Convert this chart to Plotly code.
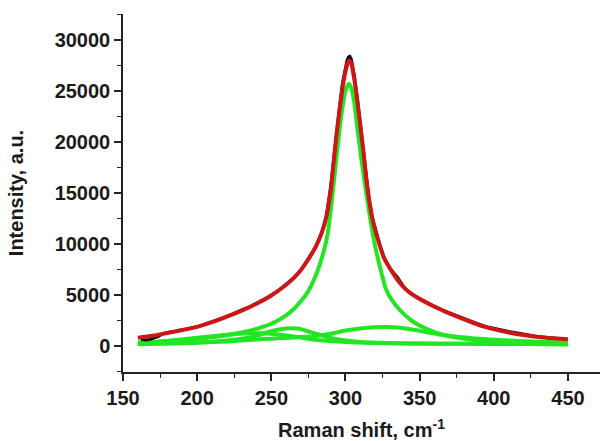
import plotly.graph_objects as go

# Measured Raman spectrum (black)
data_x = [162,165,168,171,174,177,180,184,188,192,196,200,205,210,215,220,225,230,235,240,245,250,255,260,265,270,275,280,284,287,290,292,294,296,298,300,301,302,303,304,305,306,308,310,312,314,316,318,320,323,326,330,335,340,345,350,355,360,365,370,375,380,385,390,395,400,405,410,415,420,425,430,435,440,445,448]
data_y = [650,600,640,760,950,1200,1330,1400,1520,1620,1750,1880,2120,2400,2620,2950,3180,3550,3800,4200,4550,5000,5450,6050,6650,7450,8550,9750,11100,12700,15600,18400,21300,23500,25800,27400,28000,28350,28400,28100,27400,26500,24300,21800,19400,16600,14300,12600,11500,10000,8700,7600,6750,5650,5050,4650,4250,3900,3550,3250,2950,2700,2400,2150,1900,1750,1560,1430,1300,1150,1020,920,840,780,720,690]

# Cumulative fit (red)
fit_x = [160,170,180,190,200,210,220,230,240,250,260,265,270,275,280,284,287,290,292,294,296,298,300,302,303,304,306,308,310,312,314,316,318,320,323,326,330,335,340,345,350,360,370,380,390,400,410,420,430,440,450]
fit_y = [800,1000,1280,1560,1880,2330,2880,3470,4150,4950,6000,6650,7450,8500,9750,11100,12600,15200,18000,20800,23100,25300,26900,27900,27950,27700,26100,24000,21600,19200,16400,14300,12600,11400,9900,8600,7600,6500,5650,5050,4600,3850,3200,2600,2050,1650,1330,1070,880,750,650]

# Fitted components (green)
main_x = [160,170,180,190,200,210,220,230,240,250,255,260,265,270,275,280,285,288,291,294,297,300,302,304,306,308,311,314,317,320,323,327,330,335,340,345,350,360,370,380,390,400,410,420,430,440,450]
main_y = [350,400,480,580,700,850,1050,1320,1680,2180,2550,3000,3600,4400,5400,6900,9100,11000,14500,18600,22400,25000,25700,25300,23800,21400,18000,15000,12200,9800,7900,5700,4800,3800,3050,2450,2000,1350,950,720,570,470,400,350,310,280,260]

comp2_x = [160,180,200,210,220,230,240,245,250,255,260,265,270,275,280,285,290,295,300,310,320,335,350,375,400,425,450]
comp2_y = [200,260,350,420,550,720,1000,1230,1450,1620,1710,1740,1650,1420,1200,1000,800,650,540,400,320,260,240,220,200,190,180]

comp3_x = [160,180,200,220,240,250,260,270,280,290,300,310,320,328,335,345,355,365,375,385,395,410,430,450]
comp3_y = [180,240,320,450,640,720,790,870,980,1200,1520,1720,1830,1860,1810,1620,1350,1100,900,770,660,530,420,350]

comp4_x = [160,180,200,215,225,235,245,255,265,275,285,300,315,330,360,400,450]
comp4_y = [270,500,800,1020,1170,1250,1240,1120,930,720,540,400,310,260,220,200,180]

x_ticks = [150,200,250,300,350,400,450]
y_ticks = [0,5000,10000,15000,20000,25000,30000]

GREEN = "#22e622"
RED = "#cf1515"

fig = go.Figure()
for cx, cy in [(comp4_x, comp4_y), (comp3_x, comp3_y), (comp2_x, comp2_y), (main_x, main_y)]:
    fig.add_trace(go.Scatter(x=cx, y=cy, mode="lines",
                             line=dict(color=GREEN, width=4, shape="spline", smoothing=0.6),
                             showlegend=False, hoverinfo="skip"))
fig.add_trace(go.Scatter(x=data_x, y=data_y, mode="lines",
                         line=dict(color="#111111", width=3), showlegend=False))
fig.add_trace(go.Scatter(x=fit_x, y=fit_y, mode="lines",
                         line=dict(color=RED, width=4, shape="spline", smoothing=0.6),
                         showlegend=False))

font_tick = dict(family="Liberation Sans, Arial, sans-serif", size=20, color="#1a1a1a")
font_title = dict(family="Liberation Sans, Arial, sans-serif", size=20, color="#1a1a1a")

fig.update_layout(
    width=600, height=441,
    margin=dict(l=123, r=0, t=14, b=69),
    paper_bgcolor="white", plot_bgcolor="white",
    font=font_tick,
    xaxis=dict(
        range=[150, 471.6], showgrid=False, zeroline=False,
        showline=True, linecolor="#222", linewidth=1.5,
        ticks="outside", ticklen=7, tickwidth=1.5, tickcolor="#222",
        tickvals=x_ticks, ticktext=[f"<b>{v}</b>" for v in x_ticks],
        tickfont=font_tick,
        minor=dict(dtick=25, tick0=150, ticks="outside", ticklen=4, tickwidth=1.2, tickcolor="#222"),
        title=dict(text="<b>Raman shift, cm<sup>-1</sup></b>", font=font_title, standoff=28),
        automargin=False,
    ),
    yaxis=dict(
        range=[-2550, 32550], showgrid=False, zeroline=False,
        showline=True, linecolor="#222", linewidth=1.5,
        ticks="outside", ticklen=7, tickwidth=1.5, tickcolor="#222",
        tickvals=y_ticks, ticktext=[f"<b>{v}</b>" for v in y_ticks],
        tickfont=font_tick,
        minor=dict(dtick=2500, tick0=0, ticks="outside", ticklen=4, tickwidth=1.2, tickcolor="#222"),
        title=dict(text="<b>Intensity, a.u.</b>", font=font_title, standoff=26),
        automargin=False,
    ),
)

fig.write_html("out.html")
